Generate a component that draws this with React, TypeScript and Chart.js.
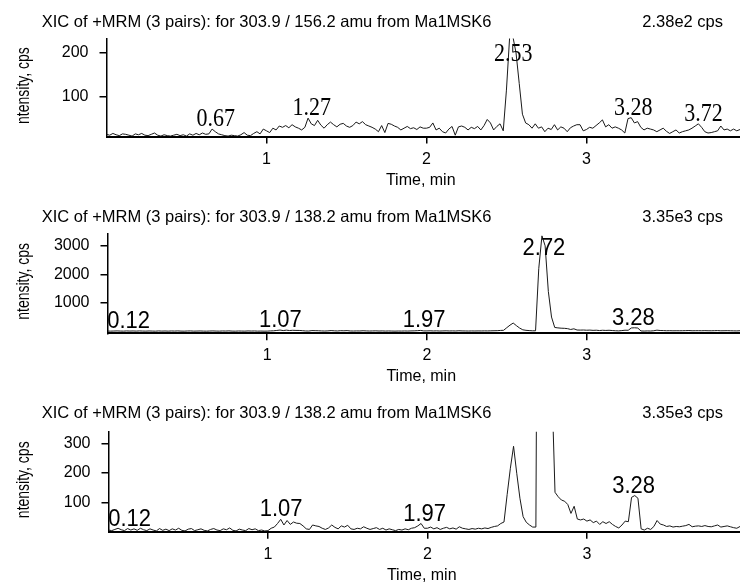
import React, { useEffect, useRef } from 'react';
import { Chart, registerables } from 'chart.js';

Chart.register(...registerables);

// MRM cycle time (min) between successive samples
const SAMPLE_STEP = 0.02;

// XIC 303.9 / 156.2 (top panel), samples from 0.00 to 3.96 min
const xic156Values = [
  14, 12, 16, 13, 11, 15, 14, 12, 10, 15,
  13, 16, 12, 11, 14, 17, 12, 10, 13, 11,
  10, 12, 14, 11, 13, 10, 15, 12, 16, 13,
  17, 14, 15, 26, 20, 15, 13, 11, 10, 12,
  11, 10, 13, 18, 12, 11, 16, 20, 15, 26,
  22, 18, 28, 24, 33, 30, 34, 29, 36, 31,
  28, 24, 30, 51, 38, 34, 46, 35, 28, 36,
  42, 36, 31, 37, 39, 33, 30, 34, 42, 38,
  43, 36, 33, 30, 26, 20, 34, 18, 39, 37,
  33, 30, 24, 28, 32, 27, 29, 25, 31, 28,
  28, 30, 40, 24, 28, 20, 17, 26, 32, 12,
  31, 33, 30, 24, 30, 27, 32, 24, 34, 48,
  40, 24, 32, 38, 22, 115, 236, 238, 200, 130,
  60, 40, 36, 28, 38, 28, 31, 20, 28, 25,
  36, 24, 31, 28, 20, 29, 33, 36, 36, 22,
  25, 30, 28, 34, 40, 47, 31, 36, 28, 31,
  28, 24, 17, 50, 52, 40, 43, 30, 24, 28,
  26, 24, 20, 24, 28, 21, 16, 20, 24, 17,
  20, 22, 24, 28, 33, 38, 30, 20, 17, 18,
  20, 22, 33, 24, 26, 22, 26, 22, 25,
];

// XIC 303.9 / 138.2 (middle and bottom panels), samples from 0.00 to 3.96 min
const xic138Values = [
  8, 6, 10, 14, 9, 6, 13, 8, 12, 7,
  14, 9, 6, 12, 8, 5, 13, 7, 11, 6,
  12, 8, 14, 7, 5, 11, 13, 6, 9, 12,
  7, 5, 10, 13, 8, 6, 12, 9, 15, 7,
  5, 11, 8, 6, 13, 9, 12, 6, 8, 5,
  6, 14, 18, 30, 44, 25, 40, 27, 35, 31,
  30, 22, 12, 10, 25, 22, 20, 14, 10, 15,
  25, 17, 12, 22, 18, 24, 12, 10, 14, 12,
  19, 14, 10, 13, 16, 10, 14, 8, 12, 9,
  6, 10, 8, 12, 9, 14, 16, 22, 30, 14,
  14, 18, 12, 16, 10, 14, 17, 12, 15, 11,
  19, 14, 12, 10, 13, 11, 14, 12, 15, 13,
  17, 20, 22, 30, 35, 128, 216, 290, 199, 115,
  53, 34, 25, 18, 18, 2200, 3350, 3000, 1400, 500,
  135, 120, 109, 105, 94, 64, 88, 45, 42, 45,
  38, 42, 33, 38, 27, 36, 30, 36, 27, 20,
  15, 25, 38, 36, 118, 124, 115, 12, 8, 14,
  10, 20, 40, 28, 25, 20, 22, 18, 20, 19,
  21, 23, 27, 19, 21, 22, 20, 23, 20, 19,
  22, 25, 18, 20, 22, 19, 16, 14, 20,
];

const timeTicks = [1, 2, 3];
const yTicksTop = [100, 200];
const yTicksMid = [1000, 2000, 3000];
const yTicksLow = [100, 200, 300];

const peaksTop = [0.67, 1.27, 2.53, 3.28, 3.72];
const peaksMid = [0.12, 1.07, 1.97, 2.72, 3.28];
const peaksLow = [0.12, 1.07, 1.97, 3.28];

const titleTop = 'XIC of +MRM (3 pairs): for 303.9 / 156.2 amu from Ma1MSK6';
const titleMid = 'XIC of +MRM (3 pairs): for 303.9 / 138.2 amu from Ma1MSK6';
const titleLow = 'XIC of +MRM (3 pairs): for 303.9 / 138.2 amu from Ma1MSK6';
const maxTop = '2.38e2 cps';
const maxMid = '3.35e3 cps';
const maxLow = '3.35e3 cps';

const X_TITLE = 'Time, min';
const Y_TITLE = 'Intensity, cps';

const SANS = '"Liberation Sans", Arial, Helvetica, sans-serif';
const SERIF = '"Liberation Serif", "Times New Roman", serif';

type PanelProps = {
  values: number[];
  yMin: number;
  yMax: number;
  yTicks: number[];
  peaks: number[];
  title: string;
  maxLabel: string;
  peakFont: string;
  peakScaleY: number;
  top: number;
  height: number;
  areaLeft: number;
  areaTop: number;
  areaBottom: number;
  titleBaseline: number;
};

function Panel(p: PanelProps) {
  const ref = useRef<HTMLCanvasElement | null>(null);

  useEffect(() => {
    const canvas = ref.current;
    if (!canvas) return;
    const data = p.values.map((v, i) => ({ x: +(i * SAMPLE_STEP).toFixed(2), y: v }));

    const annot = {
      id: 'annot',
      afterDraw(chart: any) {
        const ctx = chart.ctx as CanvasRenderingContext2D;
        const { left, right, top, bottom } = chart.chartArea;
        const xs = chart.scales.x;
        const ys = chart.scales.y;
        ctx.save();
        ctx.fillStyle = '#000';
        // header
        ctx.font = `16.5px ${SANS}`;
        ctx.textBaseline = 'alphabetic';
        ctx.textAlign = 'left';
        ctx.fillText(p.title, 41.7, p.titleBaseline);
        ctx.textAlign = 'right';
        ctx.fillText(p.maxLabel, 723, p.titleBaseline);
        // x title
        ctx.font = `16px ${SANS}`;
        ctx.textAlign = 'center';
        ctx.fillText(X_TITLE, (left + right) / 2 - 2.5, bottom + 48);
        // y title (first letter cut off as in the source)
        ctx.save();
        ctx.font = `14px ${SANS}`;
        const W = ctx.measureText(Y_TITLE).width;
        const wI = ctx.measureText(Y_TITLE[0]).width;
        ctx.translate(28.5, (top + bottom) / 2);
        ctx.rotate(-Math.PI / 2);
        ctx.scale(1, 1.25);
        ctx.beginPath();
        ctx.rect(-W / 2 + wI, -20, W, 30);
        ctx.clip();
        ctx.textAlign = 'center';
        ctx.fillText(Y_TITLE, 0, 0);
        ctx.restore();
        // peak labels
        ctx.font = p.peakFont;
        ctx.textAlign = 'center';
        for (const t of p.peaks) {
          let vmax = -Infinity;
          data.forEach((d) => {
            if (Math.abs(d.x - t) <= 0.021 && d.y > vmax) vmax = d.y;
          });
          const px = xs.getPixelForValue(t) + 2;
          let py = Math.min(bottom, ys.getPixelForValue(vmax)) - 3;
          py = Math.max(py, top + 22);
          ctx.save();
          ctx.translate(px, py);
          ctx.scale(1, p.peakScaleY);
          ctx.fillText(t.toFixed(2), 0, 0);
          ctx.restore();
        }
        ctx.restore();
      },
    };

    const chart = new Chart(canvas, {
      type: 'line',
      data: {
        datasets: [
          {
            data,
            borderColor: '#1a1a1a',
            borderWidth: 1,
            pointRadius: 0,
            fill: false,
            tension: 0,
          },
        ],
      },
      options: {
        animation: false,
        responsive: false,
        maintainAspectRatio: false,
        parsing: false as any,
        layout: { padding: { top: p.areaTop, right: 0, bottom: 0, left: 0 } },
        plugins: { legend: { display: false }, tooltip: { enabled: false } },
        scales: {
          x: {
            type: 'linear',
            min: 0,
            max: 3.96,
            afterBuildTicks: (a: any) => {
              a.ticks = timeTicks.map((v) => ({ value: v }));
            },
            afterFit: (a: any) => {
              a.height = p.height - p.areaBottom;
            },
            grid: {
              display: true,
              drawOnChartArea: false,
              drawTicks: true,
              tickLength: 7,
              color: '#000',
              lineWidth: 1.5,
            },
            border: { display: true, color: '#000', width: 2 },
            ticks: {
              color: '#000',
              font: { family: SANS, size: 16 },
              padding: 6,
              maxRotation: 0,
              callback: (v: any) => String(v),
            },
          },
          y: {
            type: 'linear',
            min: p.yMin,
            max: p.yMax,
            afterBuildTicks: (a: any) => {
              a.ticks = p.yTicks.map((v) => ({ value: v }));
            },
            afterFit: (a: any) => {
              a.width = p.areaLeft;
            },
            grid: {
              display: true,
              drawOnChartArea: false,
              drawTicks: true,
              tickLength: 7,
              color: '#000',
              lineWidth: 1.5,
            },
            border: { display: true, color: '#000', width: 1.5 },
            ticks: {
              color: '#000',
              font: { family: SANS, size: 16 },
              padding: 11,
              callback: (v: any) => String(v),
            },
          },
        },
      },
      plugins: [annot],
    } as any);

    return () => chart.destroy();
  }, []);

  return (
    <canvas
      ref={ref}
      width={740}
      height={p.height}
      style={{ position: 'absolute', left: 0, top: p.top, width: 740, height: p.height }}
    />
  );
}

export default function App() {
  return (
    <div
      style={{
        position: 'fixed',
        left: 0,
        top: 0,
        width: 740,
        height: 583,
        overflow: 'hidden',
        background: '#fff',
      }}
    >
      <Panel
        values={xic156Values}
        yMin={9}
        yMax={233}
        yTicks={yTicksTop}
        peaks={peaksTop}
        title={titleTop}
        maxLabel={maxTop}
        peakFont={`22px ${SERIF}`}
        peakScaleY={1.18}
        top={0}
        height={195}
        areaLeft={106.5}
        areaTop={38.5}
        areaBottom={136.5}
        titleBaseline={27}
      />
      <Panel
        values={xic138Values}
        yMin={-70}
        yMax={3440}
        yTicks={yTicksMid}
        peaks={peaksMid}
        title={titleMid}
        maxLabel={maxMid}
        peakFont={`22px ${SANS}`}
        peakScaleY={1.12}
        top={195}
        height={195}
        areaLeft={107.5}
        areaTop={38.3}
        areaBottom={138.3}
        titleBaseline={26.7}
      />
      <Panel
        values={xic138Values}
        yMin={2.4}
        yMax={339}
        yTicks={yTicksLow}
        peaks={peaksLow}
        title={titleLow}
        maxLabel={maxLow}
        peakFont={`22px ${SANS}`}
        peakScaleY={1.12}
        top={390}
        height={193}
        areaLeft={108.5}
        areaTop={41.7}
        areaBottom={141.7}
        titleBaseline={28.3}
      />
    </div>
  );
}
